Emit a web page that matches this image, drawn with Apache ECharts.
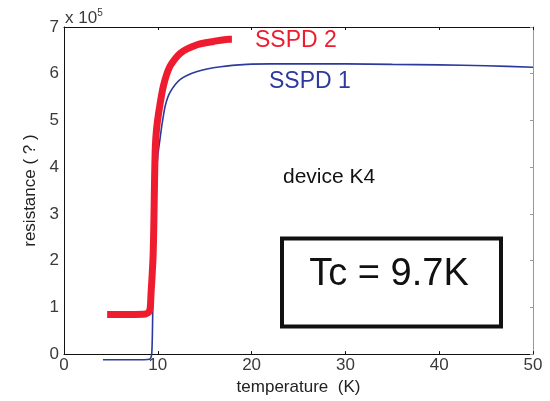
<!DOCTYPE html>
<html>
<head>
<meta charset="utf-8">
<script src="https://cdn.jsdelivr.net/npm/echarts@6/dist/echarts.min.js"></script>
<style>
  html, body { margin: 0; padding: 0; background: #fff; }
  #chart { width: 550px; height: 401px; }
</style>
</head>
<body>
<div id="chart"></div>
<script>
// Temperature (K) / resistance (x 10^5 ohm) curves for the two detectors of device K4
const sspd1Temp = [4.15, 6, 8, 8.9, 9.2, 9.35, 9.42, 9.46, 9.55, 9.65, 9.8, 10.0, 10.2, 10.43, 10.79, 11.3, 12.4, 14.2, 16.7, 19.5, 22, 25, 30, 35, 40, 45, 50];
const sspd1Res  = [-0.12, -0.12, -0.12, -0.115, -0.1, 0.0, 0.4, 0.9, 1.8, 2.8, 3.7, 4.25, 4.55, 4.89, 5.31, 5.6, 5.88, 6.05, 6.15, 6.2, 6.21, 6.21, 6.21, 6.2, 6.19, 6.17, 6.14];

const sspd2Temp = [4.6, 7, 8.7, 9.05, 9.2, 9.28, 9.4, 9.5, 9.57, 9.62, 9.67, 9.74, 9.86, 10.08, 10.6, 11.3, 12.4, 14.2, 15.95, 17.55, 17.9];
const sspd2Res  = [0.85, 0.85, 0.86, 0.9, 1.0, 1.3, 1.7, 2.1, 2.7, 3.3, 3.9, 4.45, 4.8, 5.15, 5.74, 6.16, 6.44, 6.62, 6.69, 6.74, 6.74];

const xTicks = [0, 10, 20, 30, 40, 50];
const yTicks = [0, 1, 2, 3, 4, 5, 6, 7];

const pair = (xs, ys) => xs.map((x, i) => [x, ys[i]]);

const FONT = 'Arial, "Liberation Sans", sans-serif';
const chart = echarts.init(document.getElementById('chart'));

const G = { left: 64, right: 17, top: 27, bottom: 43 };

chart.setOption({
  animation: false,
  backgroundColor: '#fff',
  grid: { left: G.left, right: G.right, top: G.top, bottom: G.bottom },
  xAxis: [
    {
      type: 'value', min: xTicks[0], max: xTicks[xTicks.length - 1], interval: 10,
      name: 'temperature  (K)', nameLocation: 'middle', nameGap: 21,
      nameTextStyle: { fontFamily: FONT, fontSize: 17, color: '#222' },
      axisLine: { show: true, onZero: false, lineStyle: { color: '#111', width: 1 } },
      axisTick: { show: true, inside: true, length: 3, lineStyle: { color: '#111' } },
      axisLabel: { fontFamily: FONT, fontSize: 17, color: '#3a3a3a', margin: 3 },
      splitLine: { show: false }
    },
    {
      type: 'value', position: 'top', min: 0, max: 50, interval: 10,
      axisLine: { show: true, onZero: false, lineStyle: { color: '#111', width: 1 } },
      axisTick: { show: true, inside: true, length: 3, lineStyle: { color: '#111' } },
      axisLabel: { show: false },
      splitLine: { show: false }
    }
  ],
  yAxis: [
    {
      type: 'value', min: yTicks[0], max: yTicks[yTicks.length - 1], interval: 1,
      name: 'resistance ( ? )', nameLocation: 'middle', nameGap: 19, nameRotate: 90,
      nameTextStyle: { fontFamily: FONT, fontSize: 17, color: '#222' },
      axisLine: { show: true, onZero: false, lineStyle: { color: '#111', width: 1 } },
      axisTick: { show: false },
      axisLabel: { fontFamily: FONT, fontSize: 17, color: '#3a3a3a', margin: 5, padding: [5, 0, 0, 0] },
      splitLine: { show: false }
    },
    {
      type: 'value', position: 'right', min: 0, max: 7, interval: 1,
      axisLine: { show: true, onZero: false, lineStyle: { color: '#999', width: 1 } },
      axisTick: { show: true, inside: true, length: 3, lineStyle: { color: '#999' } },
      axisLabel: { show: false },
      splitLine: { show: false }
    }
  ],
  series: [
    {
      name: 'SSPD 1', type: 'line', xAxisIndex: 0, yAxisIndex: 0, clip: false,
      data: pair(sspd1Temp, sspd1Res), smooth: 0.25, showSymbol: false,
      lineStyle: { color: '#2b3a9c', width: 1.6 }, z: 2
    },
    {
      name: 'SSPD 2', type: 'line', xAxisIndex: 0, yAxisIndex: 0, clip: false,
      data: pair(sspd2Temp, sspd2Res), smooth: 0.25, showSymbol: false,
      lineStyle: { color: '#ee1c2e', width: 7, cap: 'butt', join: 'round' }, z: 3
    }
  ],
  graphic: [
    {
      type: 'text', left: 65, top: 8,
      style: {
        text: '{b|x 10}{s|5}',
        rich: {
          b: { fontFamily: FONT, fontSize: 17, fill: '#3a3a3a' },
          s: { fontFamily: FONT, fontSize: 10, fill: '#3a3a3a', verticalAlign: 'top', padding: [0, 0, 10, 0] }
        }
      }
    },
    { type: 'text', x: 255, y: 41, style: { text: 'SSPD 2', fontFamily: FONT, fontSize: 23, fill: '#ee1c2e', verticalAlign: 'middle' } },
    { type: 'text', x: 269, y: 82, style: { text: 'SSPD 1', fontFamily: FONT, fontSize: 23, fill: '#2b3a9c', verticalAlign: 'middle' } },
    { type: 'text', x: 283, y: 177, style: { text: 'device K4', fontFamily: FONT, fontSize: 21, fill: '#111', verticalAlign: 'middle' } },
    {
      type: 'rect', shape: { x: 282, y: 238.5, width: 219, height: 88 },
      style: { fill: '#fff', stroke: '#111', lineWidth: 4 }
    },
    { type: 'text', x: 389, y: 275, style: { text: 'Tc = 9.7K', fontFamily: FONT, fontSize: 38, fill: '#111', align: 'center', verticalAlign: 'middle' } }
  ]
});
</script>
</body>
</html>
